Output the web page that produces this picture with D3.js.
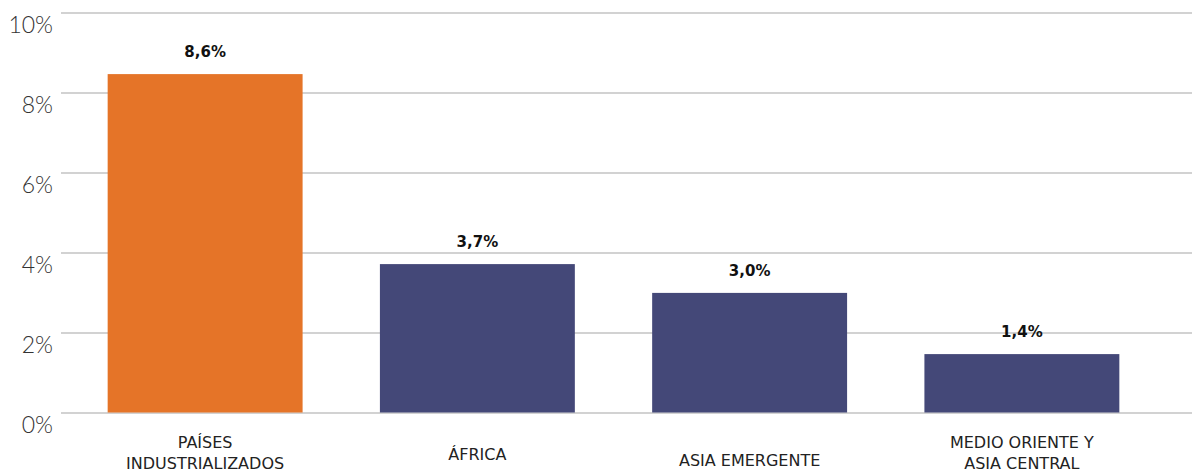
<!DOCTYPE html>
<html><head><meta charset="utf-8">
<script src="https://cdn.jsdelivr.net/npm/d3@7"></script>
<style>
html,body{margin:0;padding:0;background:#fff;}
svg{display:block;}
</style></head>
<body>
<script>
const categories = ["PAÍSES INDUSTRIALIZADOS", "ÁFRICA", "ASIA EMERGENTE", "MEDIO ORIENTE Y ASIA CENTRAL"];
const categoryLines = [["PAÍSES", "INDUSTRIALIZADOS"], ["ÁFRICA"], ["ASIA EMERGENTE"], ["MEDIO ORIENTE Y", "ASIA CENTRAL"]];
const values = [8.46, 3.71, 2.99, 1.46];
const valueLabels = ["8,6%", "3,7%", "3,0%", "1,4%"];
const yTicks = [0, 2, 4, 6, 8, 10];
const yTickLabels = ["0%", "2%", "4%", "6%", "8%", "10%"];
const barColors = ["#E57428", "#444878", "#444878", "#444878"];

const W = 1192, H = 473;
const svg = d3.select("body").append("svg").attr("width", W).attr("height", H);

const y = d3.scaleLinear().domain([0, 10]).range([412.5, 12.5]);
const x = d3.scaleBand().domain(categories).range([69, 1158]).paddingInner(0.284).paddingOuter(0.142);

// grid + y labels
const axisX = 61;
const yAxis = d3.axisLeft(y).tickValues(yTicks)
  .tickFormat((d, i) => yTickLabels[i])
  .tickSize(-(W - axisX)).tickPadding(8);
const gy = svg.append("g").attr("transform", `translate(${axisX},0)`).call(yAxis);
gy.select(".domain").remove();
gy.selectAll(".tick line").attr("stroke", "#c3c3c3").attr("stroke-width", 1.6);
gy.selectAll(".tick text")
  .attr("font-family", "Lato, 'Open Sans', sans-serif")
  .attr("font-weight", 300)
  .attr("font-size", 23)
  .attr("fill", "#333")
  .attr("dy", "0")
  .attr("y", 19.5);

// bars
svg.append("g").selectAll("rect").data(categories).join("rect")
  .attr("x", d => x(d))
  .attr("width", x.bandwidth())
  .attr("y", (d, i) => y(values[i]))
  .attr("height", (d, i) => y(0) - y(values[i]))
  .attr("fill", (d, i) => barColors[i]);

// value labels
svg.append("g").selectAll("text").data(categories).join("text")
  .attr("x", d => x(d) + x.bandwidth() / 2)
  .attr("y", (d, i) => y(values[i]) - 17)
  .attr("text-anchor", "middle")
  .attr("font-family", "'DejaVu Sans', sans-serif")
  .attr("font-weight", 700)
  .attr("font-size", 15)
  .attr("fill", "#111")
  .text((d, i) => valueLabels[i]);

// category labels
const firstBaseline = [448, 460, 466, 448];
const g = svg.append("g");
categories.forEach((c, i) => {
  const t = g.append("text")
    .attr("text-anchor", "middle")
    .attr("font-family", "'DejaVu Sans', sans-serif")
    .attr("font-size", 16)
    .attr("fill", "#222");
  categoryLines[i].forEach((ln, j) => {
    t.append("tspan")
      .attr("x", x(c) + x.bandwidth() / 2)
      .attr("y", firstBaseline[i] + j * 21)
      .text(ln);
  });
});
</script>
</body></html>
